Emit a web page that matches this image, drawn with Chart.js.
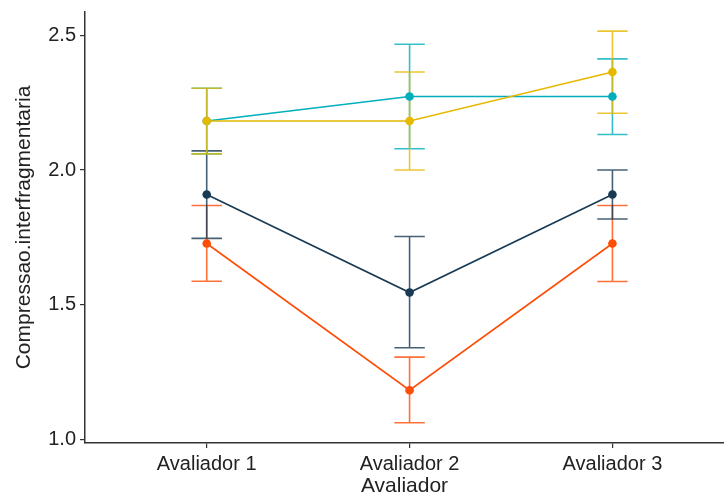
<!DOCTYPE html>
<html>
<head>
<meta charset="utf-8">
<script src="https://cdn.jsdelivr.net/npm/chart.js@4"></script>
<style>
  html, body { margin: 0; padding: 0; background: #ffffff; }
  #wrap { width: 724px; height: 502px; }
</style>
</head>
<body>
<div id="wrap"><canvas id="c" width="724" height="502"></canvas></div>
<script>
// ---- data ----
const categories = ["Avaliador 1", "Avaliador 2", "Avaliador 3"];
const yTicks = [1.0, 1.5, 2.0, 2.5];

const tealMean = [2.182, 2.273, 2.273];
const tealLow  = [2.060, 2.079, 2.132];
const tealHigh = [2.304, 2.467, 2.413];

const yellowMean = [2.182, 2.182, 2.364];
const yellowLow  = [2.060, 2.000, 2.211];
const yellowHigh = [2.304, 2.364, 2.516];

const darkMean = [1.909, 1.545, 1.909];
const darkLow  = [1.746, 1.340, 1.818];
const darkHigh = [2.071, 1.753, 2.000];

const orangeMean = [1.727, 1.182, 1.727];
const orangeLow  = [1.587, 1.061, 1.586];
const orangeHigh = [1.868, 1.305, 1.868];

const colTeal = "#00AFBB", colYellow = "#E7B800", colDark = "#183A54", colOrange = "#FC4E07";

function pts(arr) { return arr.map((v, i) => ({ x: i + 1, y: v })); }

function mkDs(label, mean, low, high, color, order) {
  return {
    label, data: pts(mean), low, high,
    borderColor: color, backgroundColor: color,
    pointBackgroundColor: color, pointBorderColor: color,
    borderWidth: 1.6, pointRadius: 4.3, pointHoverRadius: 4.3, pointBorderWidth: 0,
    tension: 0, fill: false, order
  };
}

const errorBars = {
  id: "errorBars",
  beforeDatasetsDraw(chart) {
    const ctx = chart.ctx;
    const xs = chart.scales.x, ys = chart.scales.y;
    const half = 0.075;
    const list = chart.data.datasets.slice().sort((a, b) => b.order - a.order);
    list.forEach((d) => {
      ctx.save();
      ctx.strokeStyle = d.borderColor;
      ctx.globalAlpha = 0.8;
      ctx.lineWidth = 1.6;
      d.data.forEach((p, k) => {
        const x = xs.getPixelForValue(p.x);
        const xl = xs.getPixelForValue(p.x - half);
        const xr = xs.getPixelForValue(p.x + half);
        const yl = ys.getPixelForValue(d.low[k]);
        const yh = ys.getPixelForValue(d.high[k]);
        ctx.beginPath();
        ctx.moveTo(x, yl); ctx.lineTo(x, yh);
        ctx.moveTo(xl, yl); ctx.lineTo(xr, yl);
        ctx.moveTo(xl, yh); ctx.lineTo(xr, yh);
        ctx.stroke();
      });
      ctx.restore();
    });
  }
};

const FONT = "'Liberation Sans', Arial, sans-serif";
const AX = "#333333";
const TX = "#222222";

new Chart(document.getElementById("c"), {
  type: "line",
  data: {
    datasets: [
      mkDs("A", tealMean, tealLow, tealHigh, colTeal, 2),
      mkDs("B", yellowMean, yellowLow, yellowHigh, colYellow, 1),
      mkDs("C", darkMean, darkLow, darkHigh, colDark, 3),
      mkDs("D", orangeMean, orangeLow, orangeHigh, colOrange, 4)
    ]
  },
  options: {
    responsive: false,
    animation: false,
    events: [],
    layout: { autoPadding: false, padding: { top: 12, right: 0, left: 0, bottom: 0 } },
    plugins: { legend: { display: false }, tooltip: { enabled: false } },
    scales: {
      x: {
        type: "linear",
        min: 0.4, max: 3.55,
        afterBuildTicks(s) { s.ticks = categories.map((c, i) => ({ value: i + 1 })); },
        afterFit(s) { s.height = 59; s.paddingLeft = 0; s.paddingRight = 0; },
        ticks: {
          autoSkip: false, maxRotation: 0,
          callback: (v) => categories[v - 1] ?? "",
          color: TX, padding: 4,
          font: { family: FONT, size: 20 }
        },
        grid: { display: true, drawOnChartArea: false, drawTicks: true, tickLength: 5, color: AX, lineWidth: 1.2 },
        border: { display: true, color: AX, width: 1.5 },
        title: { display: true, text: "Avaliador", color: TX, font: { family: FONT, size: 21 }, padding: { top: 0, bottom: 3 } }
      },
      y: {
        type: "linear",
        min: 0.986, max: 2.587,
        afterBuildTicks(s) { s.ticks = yTicks.map(v => ({ value: v })); },
        afterFit(s) { s.width = 85; s.paddingTop = 0; s.paddingBottom = 0; },
        ticks: {
          callback: (v) => v.toFixed(1),
          color: TX, padding: 4,
          font: { family: FONT, size: 20 }
        },
        grid: { display: true, drawOnChartArea: false, drawTicks: true, tickLength: 5, color: AX, lineWidth: 1.2 },
        border: { display: true, color: AX, width: 1.5 },
        title: { display: true, text: "Compressao.interfragmentaria", color: TX, font: { family: FONT, size: 21 }, padding: { top: 12, bottom: 0 } }
      }
    }
  },
  plugins: [errorBars]
});
</script>
</body>
</html>
